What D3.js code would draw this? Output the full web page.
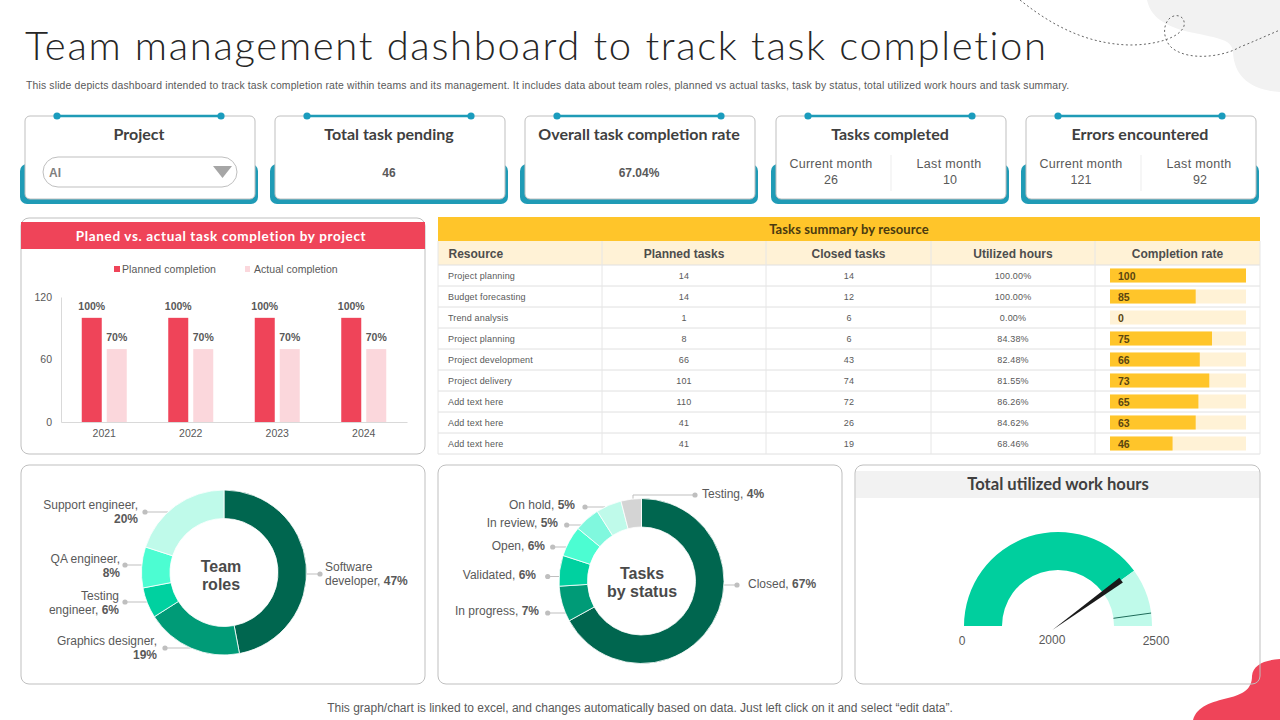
<!DOCTYPE html>
<html><head><meta charset="utf-8">
<script src="https://cdn.jsdelivr.net/npm/d3@7"></script>
<style>
html,body{margin:0;padding:0;background:#fff;overflow:hidden}
svg{display:block}
text{font-family:"Liberation Sans",Arial,sans-serif}
.g{font-family:"Lato",sans-serif}
</style></head><body>
<svg id="c" width="1280" height="720"></svg>
<script>
// ---------- data ----------
const titleText = "Team management dashboard to track task completion";
const subtitleText = "This slide depicts dashboard intended to track task completion rate within teams and its management.  It includes data about team roles, planned vs actual tasks, task by status, total utilized  work hours and task summary.";
const footerText = "This graph/chart is linked to excel,  and changes automatically based on data. Just left click on it and select \u201Cedit data\u201D.";

const years = ["2021","2022","2023","2024"];
const plannedCompletion = [100,100,100,100];
const actualCompletion = [70,70,70,70];
const yTicks = [0,60,120];

const resources = ["Project planning","Budget forecasting","Trend analysis","Project planning","Project development","Project delivery","Add text here","Add text here","Add text here"];
const plannedTasks = [14,14,1,8,66,101,110,41,41];
const closedTasks = [14,12,6,6,43,74,72,26,19];
const utilizedHours = ["100.00%","100.00%","0.00%","84.38%","82.48%","81.55%","86.26%","84.62%","68.46%"];
const completionLabels = [100,85,0,75,66,73,65,63,46];
const completionBars = [100,63,0,75,66,73,65,63,46];
const tableHeads = ["Resource","Planned tasks","Closed tasks","Utilized hours","Completion rate"];

const roleNames = ["Software developer","Graphics designer","Testing engineer","QA engineer","Support engineer"];
const roleValues = [47,19,6,8,20];
const statusNames = ["Closed","In progress","Validated","Open","In review","On hold","Testing"];
const statusValues = [67,7,6,6,5,5,4];

const gaugeMax = 2500, gaugeValue = 2000, gaugeTarget = 2390;

// ---------- layout / style ----------
const RED="#EF4459", PINK="#FBD7DC", TEAL="#1F9BB6", AMBER="#FFC52A", CREAM="#FFF2D6", TXT="#595959", DARK="#404040", BORDER="#bfbfbf";
const roleColors=["#00664F","#009B77","#00D1A0","#4CFDD2","#BFFAEA"];
const statusColors=["#00664F","#009B77","#00D1A0","#4CFDD2","#80F8DE","#BFFAEA","#D4D4D4"];
const svg=d3.select("#c");
const txt=(x,y,s,o={})=>{
  const t=svg.append("text").attr("x",x).attr("y",y).text(s)
   .attr("font-size",o.size||12).attr("fill",o.fill||TXT).attr("text-anchor",o.anchor||"start");
  if(o.weight)t.attr("font-weight",o.weight);
  if(o.cls)t.attr("class",o.cls);
  if(o.ls)t.attr("letter-spacing",o.ls);
  return t;
};

// decor
svg.append("path").attr("fill","#F2F2F2")
 .attr("d","M1147,0 C1150,14 1160,24 1185,31 C1215,38 1232,38 1233,52 C1234,76 1250,90 1280,92 L1280,0 Z");
svg.append("path").attr("fill","none").attr("stroke","#666").attr("stroke-width",1).attr("stroke-dasharray","2 2.5")
 .attr("d","M1020,0 C1050,24 1085,44 1130,45 C1155,45 1180,38 1184,26 C1186,16 1176,13 1170,18 C1162,25 1163,40 1172,48 C1190,62 1225,56 1240,47 C1255,41 1268,35 1280,30");
svg.append("path").attr("fill",RED)
 .attr("d","M1193,720 C1197,706 1212,702 1228,698 C1245,694 1252,688 1252,676 C1253,665 1264,660 1280,659 L1280,720 Z");

// title
txt(25,60,titleText,{size:40,fill:"#262626",cls:"g",weight:300,ls:"1.68"}).attr("id","title");
txt(26,89,subtitleText,{size:10.4,ls:".16"});
txt(640,712,footerText,{size:12,anchor:"middle"});

// KPI cards
const cardX=[25,275,525,776,1026];
const cardTitles=["Project","Total task pending","Overall task completion rate","Tasks completed","Errors encountered"];
cardX.forEach((x,i)=>{
  svg.append("rect").attr("x",x-5).attr("y",164).attr("width",238).attr("height",40).attr("rx",7).attr("fill",TEAL);
  svg.append("rect").attr("x",x).attr("y",116).attr("width",230).attr("height",83).attr("rx",5).attr("fill","#fff").attr("stroke",BORDER);
  svg.append("line").attr("x1",x+32).attr("x2",x+196).attr("y1",116).attr("y2",116).attr("stroke",TEAL).attr("stroke-width",2.5);
  [x+32,x+196].forEach(c=>svg.append("circle").attr("cx",c).attr("cy",116).attr("r",3.6).attr("fill","#1A9CBD"));
  txt(x+114,140,cardTitles[i],{size:16,fill:DARK,anchor:"middle",cls:"g",weight:700});
});
svg.append("rect").attr("x",43).attr("y",157).attr("width",194).attr("height",30).attr("rx",15).attr("fill","#fff").attr("stroke",BORDER);
txt(49,177,"AI",{size:12,weight:700,fill:"#7f7f7f"});
svg.append("path").attr("d","M213,166 H232 L222.5,178 Z").attr("fill","#A6A6A6");
txt(389,177,"46",{size:12,weight:700,anchor:"middle"});
txt(639,177,"67.04%",{size:12,weight:700,anchor:"middle"});
[[776,"26","10"],[1026,"121","92"]].forEach(([x,a,b])=>{
  txt(x+55,168,"Current  month",{size:12.5,anchor:"middle",ls:".25"});
  txt(x+55,184,a,{size:12.5,anchor:"middle"});
  txt(x+173,168,"Last month",{size:12.5,anchor:"middle",ls:".3"});
  txt(x+174,184,b,{size:12.5,anchor:"middle"});
  svg.append("line").attr("x1",x+115).attr("x2",x+115).attr("y1",155).attr("y2",191).attr("stroke","#EDEDED");
});

// panels
const panel=(x,y,w,h)=>svg.append("rect").attr("x",x).attr("y",y).attr("width",w).attr("height",h).attr("rx",8).attr("fill","none").attr("stroke",BORDER);
panel(21,218,404,236);
panel(21,465,404,219);
panel(438,465,404,219);

// bar chart
svg.append("rect").attr("x",21).attr("y",222).attr("width",404).attr("height",27).attr("fill",RED);
txt(221,241,"Planed vs. actual task completion by project",{size:13.5,fill:"#fff",anchor:"middle",cls:"g",weight:700,ls:".65"});
svg.append("rect").attr("x",114).attr("y",266).attr("width",6).attr("height",6).attr("fill",RED);
txt(122,273,"Planned completion",{size:10.5,ls:".1"});
svg.append("rect").attr("x",245).attr("y",266).attr("width",5).attr("height",6).attr("fill",PINK);
txt(254,273,"Actual completion",{size:10.5,ls:".05"});

const x0=d3.scaleBand().domain(years).range([61,407]);
const y=d3.scaleLinear().domain([0,120]).range([422,297]);
const axL=svg.append("g").attr("transform","translate(61,0)").call(d3.axisLeft(y).tickValues(yTicks).tickSize(0).tickPadding(9));
const axB=svg.append("g").attr("transform","translate(0,422)").call(d3.axisBottom(x0).tickSize(0).tickPadding(8));
[axL,axB].forEach(a=>{a.select(".domain").attr("stroke","#D9D9D9");
  a.selectAll("text").attr("font-size",10.5).attr("fill",TXT).attr("font-family",'"Liberation Sans",Arial,sans-serif');});
const BW=20, GAP=5;
const cx=d=>x0(d)+x0.bandwidth()/2;
const drawBars=(vals,off,fill)=>{
  svg.append("g").selectAll("rect").data(years).join("rect")
   .attr("x",d=>cx(d)+off).attr("width",BW)
   .attr("y",(d,i)=>y(vals[i])).attr("height",(d,i)=>y(0)-y(vals[i])).attr("fill",fill);
  svg.append("g").selectAll("text").data(years).join("text")
   .attr("x",d=>cx(d)+off+BW/2).attr("y",(d,i)=>y(vals[i])-8)
   .attr("text-anchor","middle").attr("font-size",10.5).attr("font-weight",700).attr("fill",TXT)
   .text((d,i)=>vals[i]+"%");
};
drawBars(plannedCompletion,-22.5,RED);
drawBars(actualCompletion,2.5,PINK);

// table
const colEdges=[438,602,766,931,1095,1260];
const rowY=d3.scaleBand().domain(d3.range(resources.length)).range([265,454]);
const rateX=d3.scaleLinear().domain([0,100]).range([1110,1246]);
svg.append("rect").attr("x",438).attr("y",217).attr("width",822).attr("height",24).attr("fill",AMBER);
txt(849,233.5,"Tasks summary by resource",{size:13,fill:"#4a3a10",anchor:"middle",cls:"g",weight:700,ls:".1"});
svg.append("rect").attr("x",438).attr("y",241).attr("width",822).attr("height",24).attr("fill",CREAM);
tableHeads.forEach((h,i)=>{
  const cxx=(colEdges[i]+colEdges[i+1])/2;
  txt(i?cxx:448.5,258,h,{size:12,weight:700,fill:"#4d4d4d",anchor:i?"middle":"start"});
});
const body=svg.append("g");
body.selectAll("line.r").data(resources).join("line").attr("class","r")
 .attr("x1",438).attr("x2",1260).attr("y1",(d,i)=>rowY(i)+rowY.bandwidth()).attr("y2",(d,i)=>rowY(i)+rowY.bandwidth())
 .attr("stroke","#E0E0E0").attr("stroke-width",1);
body.append("line").attr("x1",438).attr("x2",1260).attr("y1",265).attr("y2",265).attr("stroke","#E0E0E0");
colEdges.forEach(e=>body.append("line").attr("x1",e).attr("x2",e).attr("y1",241).attr("y2",454).attr("stroke","#E6E6E6"));
const mid=i=>rowY(i)+rowY.bandwidth()/2+3.3;
const col=(vals,x,anchor)=>body.append("g").selectAll("text").data(vals).join("text")
 .attr("x",x).attr("y",(d,i)=>mid(i)).attr("text-anchor",anchor).attr("font-size",9).attr("letter-spacing",".15").attr("fill",TXT).text(d=>d);
col(resources,448,"start");
col(plannedTasks,684,"middle");
col(closedTasks,849,"middle");
col(utilizedHours,1013,"middle");
const trackY=i=>rowY(i)+3.5;
body.append("g").selectAll("rect").data(completionBars).join("rect")
 .attr("x",rateX(0)).attr("width",rateX(100)-rateX(0)).attr("y",(d,i)=>trackY(i)).attr("height",14).attr("fill",CREAM);
body.append("g").selectAll("rect").data(completionBars).join("rect")
 .attr("x",rateX(0)).attr("width",d=>rateX(d)-rateX(0)).attr("y",(d,i)=>trackY(i)).attr("height",14).attr("fill",AMBER);
body.append("g").selectAll("text").data(completionLabels).join("text")
 .attr("x",1118).attr("y",(d,i)=>rowY(i)+rowY.bandwidth()/2+4.3).attr("font-size",10.5).attr("font-weight",700).attr("fill","#5a4510").text(d=>d);

// donuts
function donut(cxx,cyy,names,vals,colors,labels,center){
  const R=82.5,r=54;
  const pie=d3.pie().sort(null).value(d=>d)(vals);
  const arc=d3.arc().innerRadius(r).outerRadius(R);
  const g=svg.append("g").attr("transform",`translate(${cxx},${cyy})`);
  labels.forEach((l,i)=>{
    const dy=l.dot[1]-cyy, side=l.dot[0]<cxx?-1:1;
    const edge=cxx+side*Math.sqrt(Math.max(0,R*R-dy*dy));
    const p=l.elbow?`M${l.dot[0]},${l.dot[1]} H${l.elbow} V${cyy-Math.sqrt(R*R-(l.elbow-cxx)*(l.elbow-cxx))}`:`M${l.dot[0]},${l.dot[1]} H${edge}`;
    svg.append("path").attr("d",p).attr("fill","none").attr("stroke","#BFBFBF");
    svg.append("circle").attr("cx",l.dot[0]).attr("cy",l.dot[1]).attr("r",2.6).attr("fill","#BFBFBF");
    l.lines.forEach((ln,j)=>{
      const t=txt(l.x,l.y+j*14,ln[0],{size:12,anchor:l.anchor});
      if(ln[1]!==undefined)t.append("tspan").attr("font-weight",700).text(ln[1]);
    });
  });
  g.raise();
  g.selectAll("path").data(pie).join("path").attr("d",arc).attr("fill",(d,i)=>colors[i]).attr("stroke","#fff").attr("stroke-width",.8);
  center.forEach(c=>txt(c[0],c[1],c[2],{size:16,weight:700,fill:c[3]||"#4a4a4a",anchor:"middle"}));
}
const pct=(vals,i)=>vals[i]+"%";
donut(224,572.5,roleNames,roleValues,roleColors,[
 {dot:[320,574],x:325,y:571,anchor:"start",lines:[["Software"],["developer, ",pct(roleValues,0)]]},
 {dot:[165,648],x:157,y:645,anchor:"end",lines:[["Graphics designer,"],["",pct(roleValues,1)]]},
 {dot:[125,602],x:119,y:600,anchor:"end",lines:[["Testing"],["engineer, ",pct(roleValues,2)]]},
 {dot:[125,565],x:120,y:563,anchor:"end",lines:[["QA  engineer,"],["",pct(roleValues,3)]]},
 {dot:[145,512],x:138,y:509,anchor:"end",lines:[["Support engineer,"],["",pct(roleValues,4)]]}
],[[221,572,"Team"],[221,590,"roles"]]);
donut(641.5,581,statusNames,statusValues,statusColors,[
 {dot:[737,585],x:748,y:588,anchor:"start",lines:[["Closed, ",pct(statusValues,0)]]},
 {dot:[547.7,613],x:539,y:615,anchor:"end",lines:[["In progress, ",pct(statusValues,1)]]},
 {dot:[547.7,576.5],x:536,y:579,anchor:"end",lines:[["Validated, ",pct(statusValues,2)]]},
 {dot:[552.7,547],x:545,y:550,anchor:"end",lines:[["Open, ",pct(statusValues,3)]]},
 {dot:[566.7,525],x:558,y:527,anchor:"end",lines:[["In review,  ",pct(statusValues,4)]]},
 {dot:[585,507],x:575,y:509,anchor:"end",lines:[["On hold, ",pct(statusValues,5)]]},
 {dot:[695,495],x:702,y:498,anchor:"start",elbow:633,lines:[["Testing, ",pct(statusValues,6)]]}
],[[642,579,"Tasks"],[642,597,"by status"]]);

// gauge
const GX=1058,GY=626,GR=94,Gr=56;
svg.append("rect").attr("x",855.5).attr("y",471).attr("width",404).attr("height",27).attr("fill","#F2F2F2");
panel(855,465,405,219);
txt(1058,490,"Total utilized work hours",{size:16.6,fill:DARK,anchor:"middle",cls:"g",weight:700});
const ang=d3.scaleLinear().domain([0,gaugeMax]).range([-Math.PI/2,Math.PI/2]);
const garc=d3.arc().innerRadius(Gr).outerRadius(GR);
const gg=svg.append("g").attr("transform",`translate(${GX},${GY})`);
gg.append("path").attr("d",garc({startAngle:ang(0),endAngle:ang(gaugeValue)})).attr("fill","#00CF9E");
gg.append("path").attr("d",garc({startAngle:ang(gaugeValue),endAngle:ang(gaugeMax)})).attr("fill","#BFFAEA");
const pol=(v,rad,off=0)=>{const a=ang(v);const ux=Math.sin(a),uy=-Math.cos(a);return [rad*ux-off*uy,rad*uy+off*ux];};
gg.append("path").attr("d",`M${pol(gaugeValue,-7)} L${pol(gaugeValue,78,3)} L${pol(gaugeValue,78,-3)} Z`).attr("fill","#1a1a1a");
gg.append("line").attr("x1",pol(gaugeTarget,Gr)[0]).attr("y1",pol(gaugeTarget,Gr)[1]).attr("x2",pol(gaugeTarget,GR)[0]).attr("y2",pol(gaugeTarget,GR)[1]).attr("stroke","#1F6B5A").attr("stroke-width",1);
txt(962,645,"0",{size:12,anchor:"middle"});
txt(1052,644,String(gaugeValue),{size:12,anchor:"middle"});
txt(1156,645,String(gaugeMax),{size:12,anchor:"middle"});
</script>
</body></html>
